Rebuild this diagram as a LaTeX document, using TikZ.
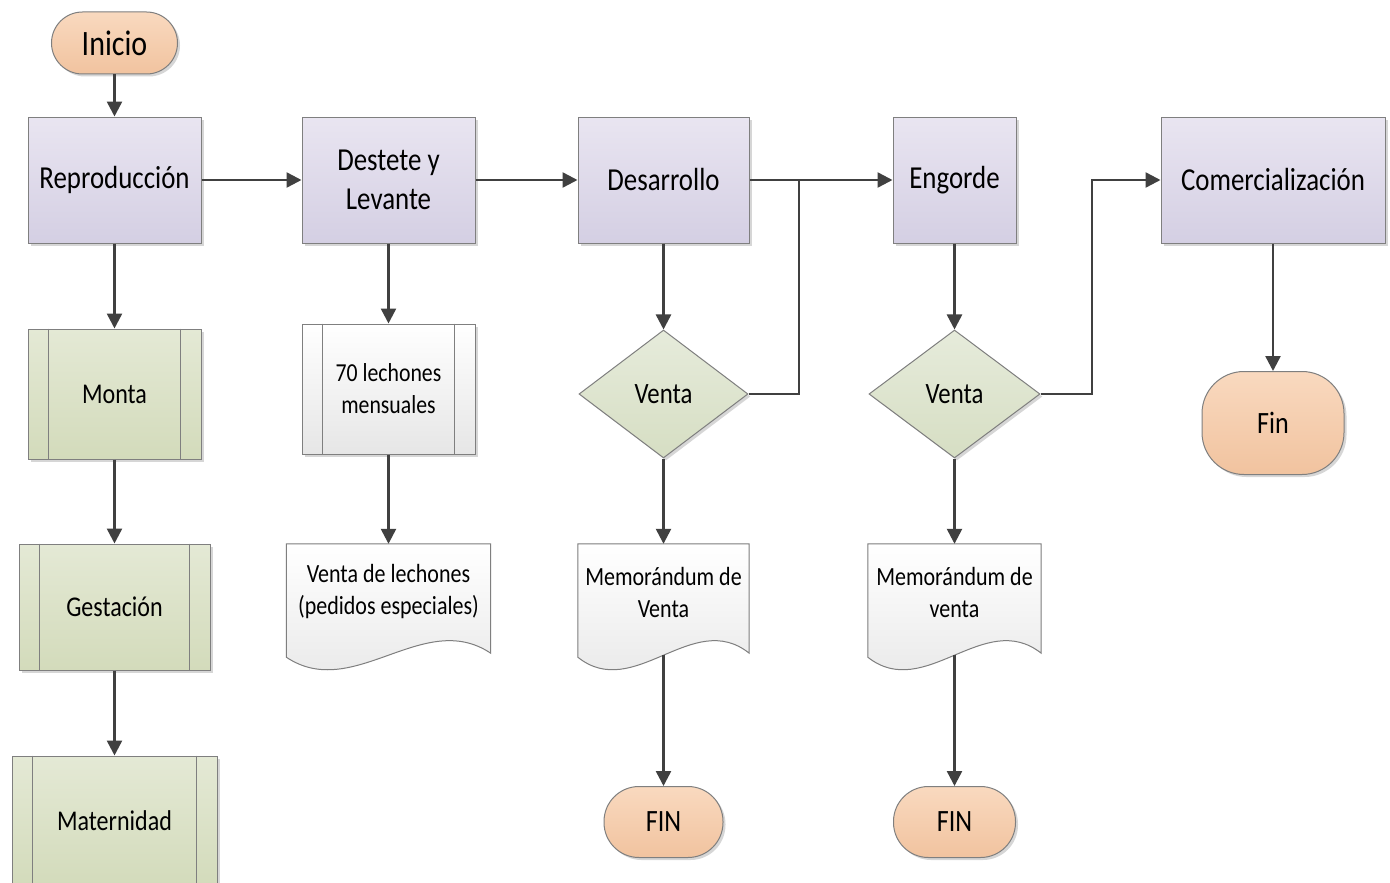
\documentclass[tikz,border=0pt]{standalone}
\usepackage{fontspec}
\setmainfont{Carlito}[FakeStretch=0.84]
\usetikzlibrary{arrows.meta,shapes.geometric,shadows,backgrounds}
\definecolor{bordc}{HTML}{7F7F7F}
\definecolor{arrc}{HTML}{404040}
\definecolor{procT}{HTML}{E9E5F1}
\definecolor{procB}{HTML}{D4CFE3}
\definecolor{subT}{HTML}{E4E9D5}
\definecolor{subB}{HTML}{D3DBBB}
\definecolor{diaT}{HTML}{E6EBDB}
\definecolor{diaB}{HTML}{D6DEC3}
\definecolor{termT}{HTML}{F9D9BF}
\definecolor{termB}{HTML}{F1C39F}
\definecolor{docT}{HTML}{FFFFFF}
\definecolor{docB}{HTML}{E6E6E6}
\tikzset{
  shad/.style={drop shadow={shadow xshift=2.5pt,shadow yshift=-2.5pt,fill=black!35,opacity=0.45}},
  base/.style={draw=bordc,line width=1pt,align=center,font=\fontsize{32}{39}\selectfont,inner sep=0pt},
  proc/.style={base,rectangle,top color=procT,bottom color=procB,shad},
  subp/.style={base,rectangle,top color=subT,bottom color=subB,shad,font=\fontsize{28.6}{34}\selectfont},
  dec/.style={base,diamond,top color=diaT,bottom color=diaB,shad,font=\fontsize{29.5}{34}\selectfont},
  term/.style={base,rounded corners=31pt,top color=termT,bottom color=termB,shad,font=\fontsize{31}{34}\selectfont},
  docbox/.style={align=center,font=\fontsize{26.2}{32}\selectfont,inner sep=0pt},
  arr/.style={draw=arrc,line width=2.5pt,-{Triangle[length=15pt,width=15pt]}},
  conn/.style={draw=arrc,line width=2.5pt},
}
\newcommand\sublines[1]{%
  \draw[bordc,line width=1pt] ([xshift=21pt]#1.north west) -- ([xshift=21pt]#1.south west);
  \draw[bordc,line width=1pt] ([xshift=-21pt]#1.north east) -- ([xshift=-21pt]#1.south east);}
\newcommand\docshape[1]{%
  \begin{pgfonlayer}{background}
  \fill[black!35,opacity=0.45,shift={(2.5pt,-2.5pt)}] (#1.north west) -- (#1.north east) -- ([yshift=-13pt]#1.south east)
     .. controls ([xshift=-0.33*\docw,yshift=32pt]#1.south east) and ([xshift=0.33*\docw,yshift=-62pt]#1.south west)
     .. ([yshift=-17pt]#1.south west) -- cycle;
  \path[draw=bordc,line width=1pt,top color=docT,bottom color=docB] (#1.north west) -- (#1.north east) -- ([yshift=-13pt]#1.south east)
     .. controls ([xshift=-0.33*\docw,yshift=32pt]#1.south east) and ([xshift=0.33*\docw,yshift=-62pt]#1.south west)
     .. ([yshift=-17pt]#1.south west) -- cycle;
  \end{pgfonlayer}}
\newlength\docw
\begin{document}
\begin{tikzpicture}[x=1pt,y={(0pt,-1pt)}]
\clip (0,0) rectangle (1390,883);
\begin{pgfonlayer}{background}
\fill[white] (0,0) rectangle (1390,883);
\end{pgfonlayer}
% terminators
\node[term,font=\fontsize{35.7}{40}\selectfont,minimum width=126pt,minimum height=62pt] (ini) at (114.5,43) {Inicio};
% main processes
\node[proc,minimum width=173pt,minimum height=126pt] (rep) at (114.5,180) {Reproducción};
\node[proc,minimum width=173pt,minimum height=126pt] (des) at (388.5,180) {Destete y\\Levante};
\node[proc,minimum width=171pt,minimum height=126pt] (dev) at (663.5,180) {Desarrollo};
\node[proc,minimum width=123pt,minimum height=126pt] (eng) at (954.5,180) {Engorde};
\node[proc,minimum width=224pt,minimum height=126pt] (com) at (1273,180) {Comercialización};
% subprocesses
\node[subp,minimum width=173pt,minimum height=130pt] (mon) at (114.5,394) {Monta};
\sublines{mon}
\node[subp,minimum width=191pt,minimum height=126pt] (ges) at (114.5,607) {Gestación};
\sublines{ges}
\node[subp,minimum width=205pt,minimum height=130pt] (mat) at (114.5,821) {Maternidad};
\sublines{mat}
\node[base,rectangle,top color=white,bottom color=docB,shad,minimum width=173pt,minimum height=130pt,font=\fontsize{25.9}{32}\selectfont] (lec) at (388.5,389) {70 lechones\\mensuales};
\sublines{lec}
% decisions
\node[dec,minimum width=169pt,minimum height=128pt] (d1) at (663.5,394) {Venta};
\node[dec,minimum width=171pt,minimum height=128pt] (d2) at (954.5,394) {Venta};
% documents
\setlength\docw{204pt}
\node[docbox,minimum width=204pt,minimum height=96pt] (vl) at (388.5,592) {Venta de lechones\\(pedidos especiales)};
\docshape{vl}
\setlength\docw{171pt}
\node[docbox,minimum width=171pt,minimum height=96pt] (m1) at (663.5,592) {Memorándum de\\Venta};
\docshape{m1}
\setlength\docw{173pt}
\node[docbox,minimum width=173pt,minimum height=96pt] (m2) at (954.5,592) {Memorándum de\\venta};
\docshape{m2}
% end terminators
\node[term,rounded corners=35pt,minimum width=119pt,minimum height=71pt] (f1) at (663.5,822) {FIN};
\node[term,rounded corners=35pt,minimum width=122pt,minimum height=71pt] (f2) at (954.5,822) {FIN};
\node[term,rounded corners=42pt,minimum width=142pt,minimum height=103pt] (fin) at (1273,423) {Fin};
% junctions
\coordinate (j1) at (799,180);
\coordinate (j2) at (1092,180);
% connectors
\draw[arr] (ini) -- (rep);
\draw[arr] (rep) -- (des);
\draw[arr] (des) -- (dev);
\draw[arr] (dev) -- (eng);
\draw[arr] (rep) -- (mon);
\draw[arr] (mon) -- (ges);
\draw[arr] (ges) -- (mat);
\draw[arr] (des) -- (lec);
\draw[arr] (lec) -- (vl);
\draw[arr] (dev) -- (d1);
\draw[arr] (d1) -- (m1);
\draw[arr] ([yshift=-15pt]m1.south) -- (f1);
\draw[conn] (d1.east) -| (j1);
\draw[arr] (eng) -- (d2);
\draw[arr] (d2) -- (m2);
\draw[arr] ([yshift=-15pt]m2.south) -- (f2);
\draw[arr] (d2.east) -| (j2) -- (com.west);
\draw[arr] (com) -- (fin);
\end{tikzpicture}
\end{document}
